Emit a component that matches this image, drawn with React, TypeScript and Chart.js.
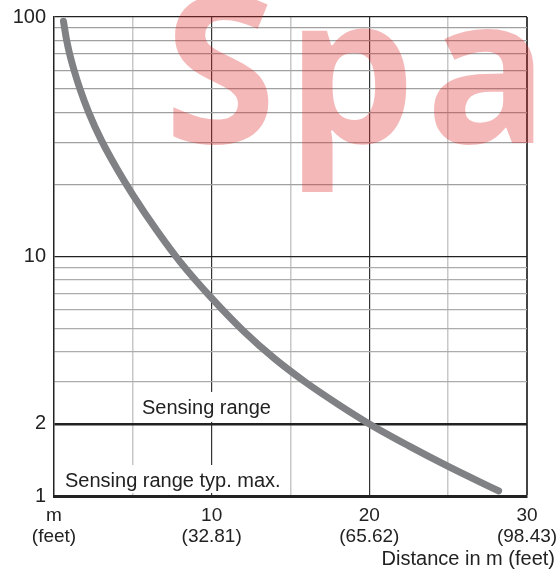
import React, { useEffect, useRef } from "react";
import { Chart, registerables } from "chart.js";

Chart.register(...registerables);

// Curve: distance (m) vs excess gain
const distance = [0.6, 0.8, 1.0, 1.27, 1.65, 2.2, 3.0, 4.0, 5.0, 6.5, 8.0, 10, 12, 14, 16, 18, 20, 22.5, 25, 28.2];
const excessGain = [96, 80, 69.7, 60, 50, 40, 30.6, 23.2, 18.1, 12.9, 9.5, 6.7, 4.9, 3.74, 2.97, 2.42, 2.0, 1.62, 1.33, 1.05];

// Axes
const xGridValues = [0, 5, 10, 15, 20, 25, 30];
const xTickValues = [0, 10, 20, 30];
const xTickMain = ["m", "10", "20", "30"];
const xTickSub = ["(feet)", "(32.81)", "(65.62)", "(98.43)"];
const yGridValues = [1, 2, 3, 4, 5, 6, 7, 8, 9, 10, 20, 30, 40, 50, 60, 70, 80, 90, 100];
const yTickValues = [1, 2, 10, 100];
const yTickLabels = ["1", "2", "10", "100"];

const xAxisTitle = "Distance in m (feet)";
const labelRange = "Sensing range";
const labelTypMax = "Sensing range typ. max.";
const watermark = "Spa";

const FONT = '"Liberation Sans", Arial, sans-serif';
const TEXT = "#222";

const overlayPlugin = {
  id: "overlay",
  afterDatasetsDraw(chart: any) {
    const { ctx, chartArea } = chart;
    const y = chart.scales.y;
    ctx.save();
    ctx.font = `20px ${FONT}`;
    ctx.textBaseline = "alphabetic";
    ctx.textAlign = "left";
    const y2 = y.getPixelForValue(2);
    const y1 = y.getPixelForValue(1);
    ctx.fillStyle = "#fff";
    const w1 = ctx.measureText(labelRange).width;
    ctx.fillRect(chartArea.left + 86, y2 - 32, w1 + 8, 30);
    const w2 = ctx.measureText(labelTypMax).width;
    ctx.fillRect(chartArea.left + 6, y1 - 31, w2 + 8, 28);
    ctx.fillStyle = TEXT;
    ctx.fillText(labelRange, chartArea.left + 88, y2 - 10);
    ctx.fillText(labelTypMax, chartArea.left + 11, y1 - 9);
    ctx.textAlign = "right";
    ctx.fillText(xAxisTitle, chart.width - 3, chart.height - 6);
    ctx.restore();
  },
  afterDraw(chart: any) {
    const { ctx } = chart;
    ctx.save();
    ctx.font = `700 204px "Open Sans", sans-serif`;
    ctx.textAlign = "left";
    ctx.textBaseline = "alphabetic";
    try {
      (ctx as any).letterSpacing = "10px";
    } catch (e) {}
    ctx.fillStyle = "rgba(222, 40, 40, 0.33)";
    ctx.fillText(watermark, 164, 143);
    ctx.restore();
  },
};

function xGridColor(v: number) {
  if (v === 0) return "rgba(0,0,0,0)";
  if (v === 30) return "#444";
  if (v === 10 || v === 20) return "#333";
  return "#c8c8c8";
}
function xGridWidth(v: number) {
  if (v === 30) return 2;
  if (v === 10 || v === 20) return 1.2;
  return 1.5;
}
function yGridColor(v: number) {
  if (v === 1) return "rgba(0,0,0,0)";
  if (v === 2 || v === 10 || v === 100) return "#222";
  if (v > 10) return "#a0a0a0";
  return "#acacac";
}
function yGridWidth(v: number) {
  if (v === 2) return 2.5;
  return 1.2;
}

export default function App() {
  const canvasRef = useRef<HTMLCanvasElement | null>(null);

  useEffect(() => {
    const canvas = canvasRef.current;
    if (!canvas) return;
    const chart = new Chart(canvas, {
      type: "line",
      data: {
        datasets: [
          {
            data: distance.map((d, i) => ({ x: d, y: excessGain[i] })),
            borderColor: "#808184",
            borderWidth: 7,
            borderCapStyle: "round",
            borderJoinStyle: "round",
            pointRadius: 0,
            cubicInterpolationMode: "monotone",
            fill: false,
          },
        ],
      },
      options: {
        responsive: false,
        animation: false,
        events: [],
        layout: { padding: { top: 17, right: 31, left: 0, bottom: 0 } },
        plugins: {
          legend: { display: false },
          tooltip: { enabled: false },
        },
        scales: {
          x: {
            type: "linear",
            min: 0,
            max: 30,
            afterBuildTicks: (s: any) => {
              s.ticks = xGridValues.map((v) => ({ value: v }));
            },
            afterFit: (s: any) => {
              s.height = 75;
              s.paddingLeft = 0;
              s.paddingRight = 0;
            },
            ticks: {
              autoSkip: false,
              maxRotation: 0,
              minRotation: 0,
              padding: 9,
              color: TEXT,
              font: { family: FONT, size: 19, lineHeight: 1.1 },
              callback: (v: any) => {
                const i = xTickValues.indexOf(Number(v));
                return i >= 0 ? [xTickMain[i], xTickSub[i]] : "";
              },
            },
            grid: {
              drawTicks: false,
              color: (c: any) => xGridColor(c.tick ? c.tick.value : -1),
              lineWidth: (c: any) => xGridWidth(c.tick ? c.tick.value : -1),
            },
            border: { color: "#222", width: 3 },
          },
          y: {
            type: "logarithmic",
            min: 1,
            max: 100,
            afterBuildTicks: (s: any) => {
              s.ticks = yGridValues.map((v) => ({ value: v }));
            },
            afterFit: (s: any) => {
              s.width = 54;
              s.paddingTop = 0;
              s.paddingBottom = 0;
            },
            ticks: {
              autoSkip: false,
              padding: 8,
              color: TEXT,
              font: { family: FONT, size: 20 },
              callback: (v: any) => {
                const i = yTickValues.indexOf(Number(v));
                return i >= 0 ? yTickLabels[i] : "";
              },
            },
            grid: {
              drawTicks: false,
              color: (c: any) => yGridColor(c.tick ? c.tick.value : -1),
              lineWidth: (c: any) => yGridWidth(c.tick ? c.tick.value : -1),
            },
            border: { color: "#222", width: 1.5 },
          },
        },
      },
      plugins: [overlayPlugin],
    } as any);
    return () => chart.destroy();
  }, []);

  return (
    <div style={{ position: "absolute", left: 0, top: 0, width: 558, height: 571, background: "#fff" }}>
      <canvas ref={canvasRef} width={558} height={571} style={{ width: 558, height: 571, display: "block" }} />
    </div>
  );
}
